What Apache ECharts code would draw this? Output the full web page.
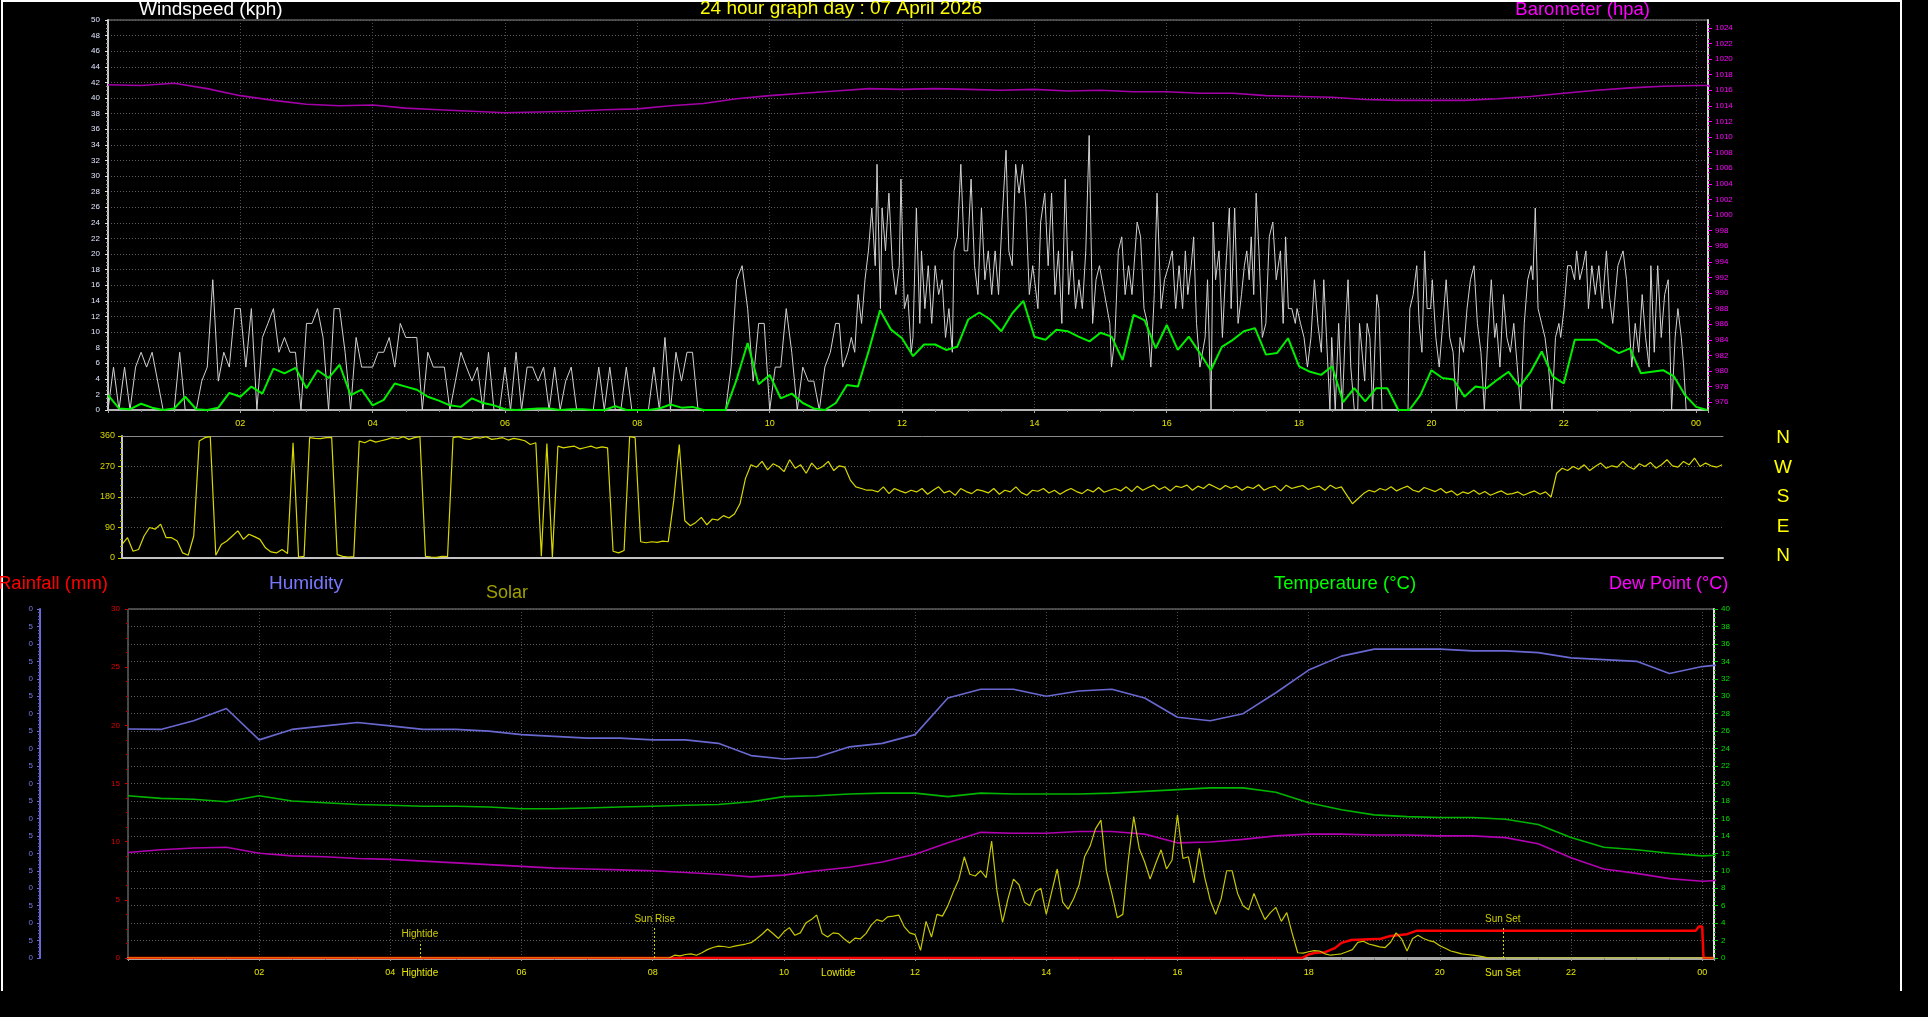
<!DOCTYPE html>
<html><head><meta charset="utf-8">
<script src="https://cdn.jsdelivr.net/npm/echarts@6/dist/echarts.min.js"></script>
<style>html,body{margin:0;padding:0;background:#000;overflow:hidden}#c{width:1928px;height:1017px}</style>
</head><body><div id="c"></div>
<script>
// ---------------- DATA ----------------
const titleText = '24 hour graph day : 07 April 2026';
const X_MAX = 24.18;               // hours shown on the time axes
// wind gust: 00:00-10:55 read every 5 minutes
const GUST_STEP_MIN = 5;
const gustEarlyKph = [
 0,5.5,0,5.5,0,5.5,7.4,5.5,7.4,3.7,0,0,
 0,7.4,0,0,0,3.7,5.5,16.7,3.7,7.4,5.5,13,
 13,5.5,13,0,9.3,11.1,13,7.4,9.3,7.4,7.4,0,
 11.1,11.1,13,9.3,0,13,13,7.4,0,9.3,5.5,5.5,
 5.5,7.4,7.4,9.3,5.5,11.1,9.3,9.3,9.3,0,7.4,5.5,
 5.5,5.5,0,3.7,7.4,5.5,3.7,5.5,0,7.4,0,0,
 5.5,0,7.4,0,5.5,5.5,3.7,5.5,0,5.5,0,3.7,
 5.5,0,0,0,0,5.5,0,5.5,0,0,5.5,0,
 0,0,0,5.5,0,9.3,0,7.4,3.7,7.4,7.4,0,
 0,0,0,0,0,5.5,16.7,18.5,13,3.7,11.1,11.1,
 0,5.5,5.5,13,7.4,0,5.5,3.7,3.7,0,5.5,7.4
];
// wind gust from 11:00 on: readings at the minutes (after midnight) where they were read
const gustLateMin = [
 659.7,663.1,666.2,670.9,674,677.1,680.2,683.3,686.4,689.5,692.6,695.7,697.3,700.4,701.9,705,708.1,711.2,714.4,717.5,719,
 722.1,725.2,728.3,729.9,733,736.1,737.6,740.7,743.8,746.9,750,753.2,756.3,759.4,762.5,765.6,767.1,770.2,773.3,776.4,
 779.5,782.6,785.7,788.8,792,795.1,798.2,801.3,804.4,807.5,810.6,814.3,816.8,819.9,823,826.1,829.2,832.3,835.4,838.5,
 840.1,843.2,845.7,849.4,852.5,855.6,858.7,861.8,864.9,868,871.1,874.2,877.3,880.4,883.5,886.6,889.7,892.8,895.9,899,
 900.6,903.7,908.4,909.9,913,916.1,919.2,922.3,925.4,928.5,933.2,936.3,939.4,942.5,945.6,948.7,951.2,954.9,958,
 961.8,965,968.1,971.2,974.4,976.9,979.1,982.2,984.4,987,990.1,994.8,997,1000.2,1002.1,1004.3,1007.4,1010.5,1013.7,1016.8,1018.4,
 1021.6,1024.7,1027.8,1030.4,1032.6,1034.8,1036.6,1038.9,1041.1,1043.6,1046.7,1049.9,1053,1056.2,1059.3,1063.1,1065.6,1067.8,1070.3,1073.4,1076.6,1078.2,
 1081.3,1084.5,1087.6,1090.8,1093.9,1097,1100.2,1102.4,1104.9,1108,1109.6,1112.8,1115.9,1119.1,1122.2,1124.4,1126.9,1130.1,1133.2,1134.8,
 1139.5,1141.7,1144.2,1146.7,1150.5,1152.4,1155.2,1166.2,1178.8,1180.4,1183.5,1186.7,1188.9,1191.4,1193.9,1196.1,
 1199.3,1200.8,1204,1207.1,1210.3,1213.4,1216.6,1219.7,1222.8,1226,1229.1,1232.3,1235.4,1238.6,1241.7,1244.9,1248,1251.2,1254.3,1257.4,
 1259,1262.1,1265.3,1268.4,1271.6,1274.7,1277.9,1281,1284.2,1287.3,1290.5,1292,1294.2,1296.7,1299.9,1303,1306.2,1309.3,1312.5,1315.6,1317.2,
 1320.3,1323.5,1326.6,1329.8,1331.7,1334.5,1337.6,1340.1,1342.4,1345.5,1348.6,1351.8,1354.9,1358.7,1361.2,1364.4,1369.1,1373.8,1376.9,
 1378.5,1381.7,1384.8,1388,1391.1,1394.2,1397.4,1399,1402.1,1405.2,1408.4,1411.5,1414.7,1417.8,1421,1423.5,1426.6,1428.8,1431,1435.1,1438,1450
];
const gustLateKph = [
 11.1,11.1,5.5,7.4,9.3,7.4,14.8,11.1,16.7,20.4,25.9,18.5,31.5,13,25.9,20.4,27.8,18.5,14.8,18.5,29.6,
 13,14.8,7.4,9.3,25.9,11.1,20.4,13,18.5,11.1,18.5,14.8,16.7,9.3,13,7.4,20.4,22.2,31.5,20.4,
 20.4,29.6,18.5,14.8,25.9,16.7,20.4,14.8,20.4,14.8,24.1,33.3,20.4,18.5,31.5,27.8,31.5,25.9,14.8,18.5,
 16.7,13,24.1,27.8,18.5,27.8,14.8,20.4,11.1,29.6,14.8,20.4,13,16.7,13,20.4,35.2,11.1,16.7,18.5,
 18.5,14.8,11.1,5.5,9.3,20.4,22.2,14.8,18.5,14.8,24.1,22.2,13,11.1,5.5,14.8,27.8,13,16.7,
 18.5,20.4,13,18.5,13,20.4,14.8,18.5,22.2,11.1,5.5,9.3,16.7,0,24.1,16.7,20.4,9.3,18.5,25.9,13,
 25.9,11.1,14.8,18.5,20.4,16.7,22.2,14.8,27.8,20.4,9.3,11.1,22.2,24.1,16.7,20.4,11.1,22.2,13,13,11.1,13,
 11.1,9.3,5.5,9.3,16.7,11.1,7.4,16.7,9.3,0,9.3,0,11.1,0,11.1,16.7,5.5,0,0,11.1,
 3.7,11.1,9.3,0,14.8,13,0,0,0,13,14.8,18.5,11.1,7.4,20.4,13,
 13,16.7,9.3,5.5,11.1,16.7,9.3,7.4,0,9.3,7.4,13,16.7,18.5,11.1,7.4,0,9.3,16.7,9.3,
 11.1,5.5,14.8,9.3,7.4,11.1,5.5,0,11.1,16.7,18.5,16.7,25.9,13,11.1,9.3,5.5,0,9.3,11.1,9.3,
 13,18.5,18.5,16.7,20.4,16.7,18.5,20.4,13,18.5,14.8,18.5,13,20.4,14.8,11.1,18.5,20.4,16.7,
 16.7,5.5,11.1,7.4,14.8,9.3,5.5,18.5,7.4,18.5,9.3,14.8,16.7,0,9.3,13,9.3,5.5,0,0,0,0
];
const AVG_STEP_MIN = 10;           // average wind speed every 10 minutes
const avgKph = [
 1.9,0.2,0.1,0.8,0.3,0,
 0.2,1.7,0.1,0,0.3,2.2,
 1.7,3.0,2.1,5.3,4.7,5.4,
 2.8,5.1,4.1,5.8,1.9,2.6,
 0.6,1.3,3.4,3.0,2.6,1.7,
 1.2,0.6,0.4,1.5,0.9,0.6,
 0.1,0,0.1,0.2,0.2,0,
 0.1,0.1,0,0,0.5,0,
 0,0,0.2,0.7,0.3,0.4,
 0,0,0,3.9,8.6,3.3,
 4.5,1.5,2.1,0.9,0.2,0,
 0.9,3.2,3.0,7.7,12.8,10.3,
 9.2,6.9,8.4,8.4,7.7,8.1,
 11.6,12.5,11.6,10.1,12.4,14.0,
 9.4,9.0,10.3,10.1,9.4,8.8,
 9.9,9.4,6.4,12.2,11.5,7.9,
 10.9,7.7,9.4,7.3,5.1,8.1,
 9.0,10.1,10.5,7.1,7.3,9.2,
 5.6,4.9,4.5,5.6,1.0,2.8,
 1.1,2.8,2.8,0,0,1.9,
 5.1,4.1,3.9,1.7,3.0,2.8,
 3.9,4.9,3.0,4.9,7.5,4.3,
 3.4,9.0,9.0,9.0,8.1,7.3,
 7.9,4.7,4.9,5.1,4.3,1.9,
 0.4,0
];
const BARO_STEP_MIN = 30;          // barometer every 30 minutes
const baroHpa = [
 1016.7,1016.6,1016.9,1016.2,1015.3,1014.7,1014.2,1014.0,1014.1,1013.7,
 1013.5,1013.3,1013.1,1013.2,1013.3,1013.5,1013.6,1014.0,1014.3,1014.9,
 1015.3,1015.6,1015.9,1016.2,1016.1,1016.2,1016.1,1016.0,1016.1,1015.9,
 1016.0,1015.8,1015.8,1015.6,1015.6,1015.3,1015.2,1015.1,1014.8,1014.7,
 1014.7,1014.7,1014.9,1015.2,1015.6,1016.0,1016.3,1016.5,1016.6,1016.6
];
const DIR_STEP_MIN = 5;            // wind direction every 5 minutes
const windDirDeg = [
 40,60,20,25,65,90,85,100,60,60,50,15,
 8,65,345,355,358,8,40,50,65,80,55,70,
 63,55,30,18,15,25,13,340,3,5,355,353,
 352,355,356,10,5,3,4,345,340,348,342,346,
 350,355,352,358,350,355,358,5,3,2,5,4,
 355,358,352,350,356,354,358,350,352,355,348,353,
 350,346,335,340,5,338,2,330,325,328,330,322,
 326,330,324,328,325,20,15,22,358,355,48,45,
 48,46,50,48,170,335,110,95,105,120,98,115,
 112,125,118,130,160,235,275,268,285,260,278,270,
 255,290,265,275,250,280,262,270,285,258,272,268,
 230,210,205,200,200,195,210,190,205,198,192,200,
 195,205,188,200,210,192,198,185,205,196,190,202,
 198,192,205,188,200,195,210,193,185,200,197,205,
 192,200,188,198,205,196,190,202,195,208,194,200,
 205,198,210,196,212,200,208,215,202,210,198,212,
 208,215,200,212,205,218,210,202,214,206,212,200,
 210,205,216,200,208,212,198,215,205,210,214,202,
 208,212,200,215,205,210,185,160,175,190,200,195,
 205,200,210,198,206,212,200,195,208,202,196,205,
 192,198,185,195,190,200,188,196,185,192,198,188,
 190,195,185,192,198,188,195,180,250,265,258,270,
 262,275,258,270,280,265,272,268,285,270,262,278,
 270,282,265,275,290,272,268,285,275,295,270,280,
 272,268,275
];
const dirTickLabels = ['N','W','S','E','N'];

const CLIMATE_STEP_MIN = 30;       // humidity / temperature / dew point every 30 minutes
const humidityPct = [
 65.6,65.5,68,71.5,62.5,65.5,66.5,67.5,66.5,65.5,65.5,65,64,63.5,63,63,62.5,62.5,61.5,58,
 57,57.5,60.5,61.5,64,74.5,77,77,75,76.5,77,74.5,69,68,70,76,82.5,86.5,88.5,88.5,
 88.5,88,88,87.5,86,85.5,85,81.5,83.5,84.5
];
const temperatureC = [
 18.6,18.3,18.2,17.9,18.6,18.0,17.8,17.6,17.5,17.4,17.4,17.3,17.1,17.1,17.2,17.3,17.4,17.5,17.6,17.9,
 18.5,18.6,18.8,18.9,18.9,18.5,18.9,18.8,18.8,18.8,18.9,19.1,19.3,19.5,19.5,19.0,17.8,17.0,16.4,16.2,
 16.1,16.1,15.9,15.3,13.8,12.7,12.4,12.0,11.7,11.9
];
const dewPointC = [
 12.1,12.4,12.6,12.7,12.0,11.7,11.6,11.4,11.3,11.1,10.9,10.7,10.5,10.3,10.2,10.1,10.0,9.8,9.6,9.3,
 9.5,10.0,10.4,11.0,11.9,13.2,14.4,14.3,14.3,14.5,14.5,14.2,13.2,13.3,13.6,14.0,14.2,14.2,14.1,14.1,
 14.0,14.0,13.8,13.1,11.5,10.2,9.7,9.1,8.8,9.0
];
const rainHours = [0,17.9,18.0,18.1,18.25,18.4,18.5,18.65,19.1,19.25,19.5,19.65,23.9,23.95,24.0,24.02,24.17];
const rainMm    = [0,0,0.3,0.45,0.5,0.85,1.3,1.55,1.65,1.9,2.05,2.35,2.35,2.7,2.7,0,0];

const SOLAR_START_H = 8.0, SOLAR_STEP_MIN = 5;   // solar radiation (W/m²), zero outside this span
const solarWm2 = [
 0,0,0,0,8,6,10,12,8,15,24,30,
 34,33,30,34,37,40,44,55,68,83,70,56,
 75,87,65,72,100,110,123,70,60,72,70,55,
 43,57,55,70,95,110,105,118,120,123,90,72,
 67,22,105,60,125,120,150,190,225,290,240,235,
 250,230,335,190,102,170,226,210,160,150,190,200,
 125,190,255,160,140,170,210,290,320,370,395,250,
 185,115,125,280,405,314,275,226,270,310,255,280,
 410,285,290,215,314,230,165,125,170,250,250,185,
 150,138,185,145,110,130,145,105,130,70,15,14,
 18,21,20,12,8,10,12,18,24,45,48,40,
 36,32,30,45,72,55,20,55,65,56,50,46,
 35,28,20,16,12,10,8,6,3,0,0
];
const eventNames = ['Hightide','Sun Rise','Lowtide','Sun Set'];
const eventHours = [4.45, 8.03, 10.83, 20.96];
const eventAboveAxis = [true, true, false, true];
const eventBelowAxis = [true, false, true, true];

// ---------------- CHART ----------------
const FONT = "'Liberation Sans', Arial, sans-serif";
const NARROW = "'Liberation Sans Narrow', 'Arial Narrow', 'Liberation Sans', sans-serif";
const toPairs = (vals, stepMin, start) => vals.map((v, i) => [(start || 0) + i * stepMin / 60, v]);
const hourFmt = v => {
  if (v === 0 || Math.abs(v - Math.round(v)) > 1e-6) return '';
  return String(Math.round(v) % 24).padStart(2, '0');
};
const plainFmt = v => String(v);
const dotted = c => ({ show: true, lineStyle: { color: c, type: [1, 2], width: 1 } });
const evens = (a, b) => { const r = []; for (let v = a; v <= b; v += 2) r.push(v); return r; };

const gustData = toPairs(gustEarlyKph, GUST_STEP_MIN).concat(gustLateMin.map((m, i) => [m / 60, gustLateKph[i]]));
const solarData = [[0, 0]].concat(toPairs(solarWm2, SOLAR_STEP_MIN, SOLAR_START_H), [[X_MAX, 0]]);
const rainData = rainHours.map((h, i) => [h, rainMm[i]]);

const markHeights = { 'Hightide': 1.9, 'Sun Rise': 3.6, 'Sun Set': 3.6 };
const eventLines = eventNames.map((n, i) => eventAboveAxis[i] ? [
  { coord: [eventHours[i], 0], name: n },
  { coord: [eventHours[i], markHeights[n]] }
] : null).filter(Boolean);
const belowValues = eventHours.filter((h, i) => eventBelowAxis[i]);

const chart = echarts.init(document.getElementById('c'), null, { renderer: 'canvas' });
const option = {
  backgroundColor: '#000',
  animation: false,
  grid: [
    { left: 108, top: 20, width: 1600, height: 390, show: true, borderColor: '#8c8c8c', borderWidth: 1 },
    { left: 122, top: 436, width: 1601, height: 122 },
    { left: 128, top: 609, width: 1586, height: 349, show: true, borderColor: '#8c8c8c', borderWidth: 1 }
  ],
  xAxis: [
    { gridIndex: 0, type: 'value', min: 0, max: X_MAX, interval: 2,
      axisLine: { onZero: false, lineStyle: { color: '#b4b4b4', width: 2 } },
      axisTick: { length: 3, lineStyle: { color: '#aaa' } },
      minorTick: { show: true, splitNumber: 4, length: 2, lineStyle: { color: '#888' } },
      axisLabel: { color: '#e6e600', fontSize: 9, fontFamily: FONT, margin: 9, formatter: hourFmt },
      splitLine: dotted('#4d4d4d') },
    { gridIndex: 1, type: 'value', min: 0, max: X_MAX, interval: 2,
      axisLine: { onZero: false, lineStyle: { color: '#c4c4c4', width: 2 } },
      axisTick: { show: false }, axisLabel: { show: false }, splitLine: { show: false } },
    { gridIndex: 1, type: 'value', position: 'top', min: 0, max: X_MAX, interval: 2,
      axisLine: { onZero: false, lineStyle: { color: '#8a8a8a', width: 1 } },
      axisTick: { show: false }, axisLabel: { show: false }, splitLine: { show: false } },
    { gridIndex: 2, type: 'value', min: 0, max: X_MAX, interval: 2,
      axisLine: { onZero: false, lineStyle: { color: '#a8a8a8', width: 3 } },
      axisTick: { length: 3, lineStyle: { color: '#999' } },
      minorTick: { show: true, splitNumber: 4, length: 2, lineStyle: { color: '#777' } },
      axisLabel: { color: '#e6e600', fontSize: 9, fontFamily: FONT, margin: 10, formatter: hourFmt },
      splitLine: dotted('#4d4d4d') },
    { gridIndex: 2, type: 'value', min: 0, max: X_MAX, position: 'bottom',
      axisLine: { show: false, onZero: false }, axisTick: { show: false }, splitLine: { show: false },
      axisLabel: { customValues: belowValues, color: '#e6e600', fontSize: 10, fontFamily: NARROW, margin: 10,
        formatter: v => { const i = eventHours.findIndex(h => Math.abs(h - v) < 1e-6); return i >= 0 ? eventNames[i] : ''; } } }
  ],
  yAxis: [
    { gridIndex: 0, type: 'value', min: 0, max: 50, interval: 2, position: 'left',
      axisLine: { show: true, onZero: false, lineStyle: { color: '#c8c8c8', width: 2 } },
      axisTick: { show: true, length: 3, lineStyle: { color: '#ddd' } },
      minorTick: { show: true, splitNumber: 4, length: 2, lineStyle: { color: '#999' } },
      axisLabel: { color: '#dfe6ff', fontSize: 8, fontFamily: FONT, margin: 8 },
      splitLine: dotted('#5e5e5e') },
    { gridIndex: 0, type: 'value', min: 975, max: 1025, interval: 1, position: 'right',
      axisLine: { show: true, onZero: false, lineStyle: { color: '#d8d8d8', width: 2 } },
      axisTick: { show: true, customValues: evens(976, 1024), length: 4, lineStyle: { color: '#ff00ff' } },
      minorTick: { show: true, splitNumber: 2, length: 2, lineStyle: { color: '#c000c0' } },
      axisLabel: { customValues: evens(976, 1024), formatter: plainFmt, color: '#ff00ff', fontSize: 8, fontFamily: FONT, margin: 7 },
      splitLine: { show: false } },
    { gridIndex: 1, type: 'value', min: 0, max: 360, interval: 90, position: 'left',
      axisLine: { show: true, onZero: false, lineStyle: { color: '#c8c8c8', width: 2 } },
      axisTick: { show: true, length: 4, lineStyle: { color: '#d0d000' } },
      minorTick: { show: true, splitNumber: 5, length: 2, lineStyle: { color: '#a0a000' } },
      axisLabel: { color: '#d6d600', fontSize: 9, fontFamily: FONT, margin: 7 },
      splitLine: dotted('#5e5e5e') },
    { gridIndex: 2, type: 'value', min: 0, max: 40, interval: 2, position: 'right',
      axisLine: { show: true, onZero: false, lineStyle: { color: '#e0e0e0', width: 2 } },
      axisTick: { show: true, length: 4, lineStyle: { color: '#00d000' } },
      minorTick: { show: true, splitNumber: 4, length: 2, lineStyle: { color: '#00a000' } },
      axisLabel: { color: '#00e000', fontSize: 8, fontFamily: FONT, margin: 7 },
      splitLine: dotted('#5e5e5e') },
    { gridIndex: 2, type: 'value', min: 0, max: 30, interval: 5, position: 'left',
      axisLine: { show: false, onZero: false },
      axisTick: { show: true, length: 3, lineStyle: { color: '#d00000' } },
      minorTick: { show: true, splitNumber: 4, length: 2, lineStyle: { color: '#b00000' } },
      axisLabel: { color: '#e00000', fontSize: 8, fontFamily: FONT, margin: 8 },
      splitLine: { show: false } },
    { gridIndex: 2, type: 'value', min: 0, max: 100, interval: 5, position: 'left', offset: 88,
      axisLine: { show: true, onZero: false, lineStyle: { color: '#6a6ad8', width: 2 } },
      axisTick: { show: true, length: 3, lineStyle: { color: '#6a6ad8' } },
      minorTick: { show: true, splitNumber: 5, length: 2, lineStyle: { color: '#5a5ac0' } },
      axisLabel: { color: '#7a7ae6', fontSize: 8, fontFamily: FONT, margin: 7, formatter: v => String(v).slice(-1) },
      splitLine: { show: false } },
    { gridIndex: 2, type: 'value', min: 0, max: 1000, show: false, axisLine: { onZero: false } }
  ],
  series: [
    { name: 'Gust', type: 'line', xAxisIndex: 0, yAxisIndex: 0, symbol: 'none', silent: true,
      data: gustData, lineStyle: { color: '#d2d2d2', width: 1 } },
    { name: 'Average', type: 'line', xAxisIndex: 0, yAxisIndex: 0, symbol: 'none', silent: true,
      data: toPairs(avgKph, AVG_STEP_MIN), lineStyle: { color: '#00f000', width: 2 } },
    { name: 'Barometer', type: 'line', xAxisIndex: 0, yAxisIndex: 1, symbol: 'none', silent: true,
      data: toPairs(baroHpa, BARO_STEP_MIN), lineStyle: { color: '#a300a8', width: 1.6 } },
    { name: 'Direction', type: 'line', xAxisIndex: 1, yAxisIndex: 2, symbol: 'none', silent: true,
      data: toPairs(windDirDeg, DIR_STEP_MIN), lineStyle: { color: '#d8d800', width: 1.2 } },
    { name: 'Humidity', type: 'line', xAxisIndex: 3, yAxisIndex: 5, symbol: 'none', silent: true,
      data: toPairs(humidityPct, CLIMATE_STEP_MIN), lineStyle: { color: '#6868d0', width: 1.6 } },
    { name: 'Temperature', type: 'line', xAxisIndex: 3, yAxisIndex: 3, symbol: 'none', silent: true,
      data: toPairs(temperatureC, CLIMATE_STEP_MIN), lineStyle: { color: '#00b400', width: 1.6 },
      markLine: { silent: true, symbol: 'none',
        lineStyle: { color: '#d0d000', type: [2, 2], width: 1 },
        label: { show: true, position: 'end', formatter: '{b}', color: '#d0d000', fontSize: 10, fontFamily: NARROW, distance: 2 },
        data: eventLines } },
    { name: 'Dew Point', type: 'line', xAxisIndex: 3, yAxisIndex: 3, symbol: 'none', silent: true,
      data: toPairs(dewPointC, CLIMATE_STEP_MIN), lineStyle: { color: '#b000b0', width: 1.6 } },
    { name: 'Rainfall', type: 'line', xAxisIndex: 3, yAxisIndex: 4, symbol: 'none', silent: true,
      data: rainData, lineStyle: { color: '#ff0000', width: 2.5 } },
    { name: 'Solar', type: 'line', xAxisIndex: 3, yAxisIndex: 6, symbol: 'none', silent: true,
      data: solarData, lineStyle: { color: '#c8c800', width: 1.2 } }
  ],
  graphic: [
    { type: 'polyline', silent: true, shape: { points: [[2, 991], [2, 1], [1901, 1], [1901, 991]] },
      style: { stroke: '#ffffff', lineWidth: 2, fill: null } },
    { type: 'text', x: 139, y: 10, style: { text: 'Windspeed (kph)', fill: '#ffffff', font: '19px ' + FONT, textVerticalAlign: 'middle' } },
    { type: 'text', x: 841, y: 9, style: { text: titleText, fill: '#ffff00', font: '19px ' + NARROW, textAlign: 'center', textVerticalAlign: 'middle' } },
    { type: 'text', x: 1650, y: 10, style: { text: 'Barometer (hpa)', fill: '#ff00ff', font: '18.5px ' + FONT, textAlign: 'right', textVerticalAlign: 'middle' } },
    { type: 'text', x: -2, y: 584, style: { text: 'Rainfall (mm)', fill: '#ff0000', font: '18.5px ' + FONT, textVerticalAlign: 'middle' } },
    { type: 'text', x: 269, y: 584, style: { text: 'Humidity', fill: '#7878ff', font: '19px ' + FONT, textVerticalAlign: 'middle' } },
    { type: 'text', x: 486, y: 593, style: { text: 'Solar', fill: '#a0a000', font: '18px ' + FONT, textVerticalAlign: 'middle' } },
    { type: 'text', x: 1274, y: 584, style: { text: 'Temperature (°C)', fill: '#00ff00', font: '18.5px ' + FONT, textVerticalAlign: 'middle' } },
    { type: 'text', x: 1609, y: 584, style: { text: 'Dew Point (°C)', fill: '#ff00ff', font: '18px ' + FONT, textVerticalAlign: 'middle' } }
  ].concat(dirTickLabels.map((t, i) => ({
    type: 'text', x: 1783, y: 438 + i * 29.5,
    style: { text: t, fill: '#ffff00', font: '19px ' + FONT, textAlign: 'center', textVerticalAlign: 'middle' }
  })))
};
chart.setOption(option);
</script></body></html>
